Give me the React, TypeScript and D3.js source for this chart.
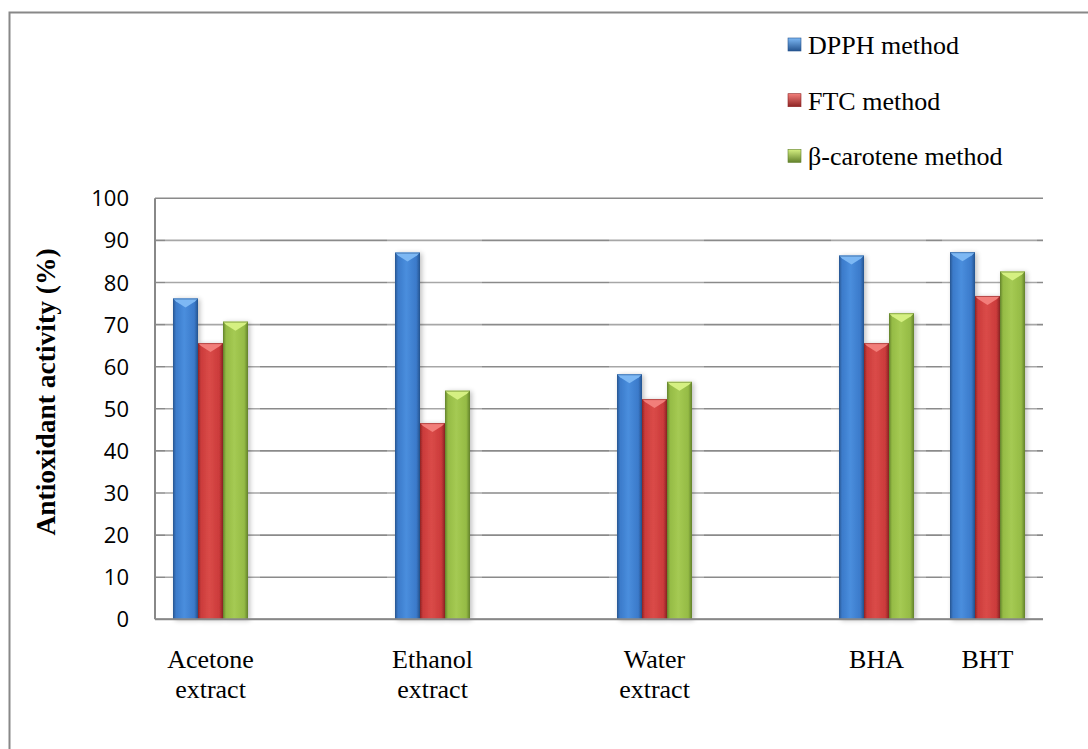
import React from "react";
import * as d3 from "d3";

// Category slots along the x axis (empty slots leave gaps between groups)
const slotCount = 8;
const categories = ["Acetone\nextract", "Ethanol\nextract", "Water\nextract", "BHA", "BHT"];
const categorySlots = [0, 2, 4, 6, 7];

const seriesNames = ["DPPH method", "FTC method", "β-carotene method"];
const dpph = [76.2, 87.1, 58.2, 86.4, 87.2];
const ftc = [65.6, 46.6, 52.3, 65.6, 76.8];
const betaCarotene = [70.7, 54.3, 56.4, 72.7, 82.6];
const yTicks = [0, 10, 20, 30, 40, 50, 60, 70, 80, 90, 100];

const W = 1088;
const H = 749;
const plot = { left: 155, right: 1043, top: 198.3, bottom: 619.3 };

const palette = [
  { base: "#3B7ACA", dark: "#25548F", light: "#4A8EDD", top: "#7DB8F4" },
  { base: "#CB3B3B", dark: "#8E2424", light: "#DA4B48", top: "#F27E7A" },
  { base: "#95BB45", dark: "#62812B", light: "#A5CA53", top: "#D5F082" },
];

export default function App() {
  const series = [dpph, ftc, betaCarotene];
  const x0 = d3.scaleBand<number>().domain(d3.range(slotCount)).range([plot.left, plot.right]);
  const x1 = d3
    .scaleBand<number>()
    .domain(d3.range(series.length))
    .range([0, x0.bandwidth()])
    .paddingInner(0)
    .paddingOuter(0.72);
  const y = d3.scaleLinear().domain([0, 100]).range([plot.bottom, plot.top]);
  const bw = x1.bandwidth();

  return (
    <svg
      width={W}
      height={H}
      style={{ position: "absolute", left: 0, top: 0, background: "#fff" }}
    >
      <defs>
        {palette.map((c, i) => (
          <linearGradient key={i} id={`bar-grad-${i}`} x1="0" x2="1" y1="0" y2="0">
            <stop offset="0%" stopColor={c.dark} />
            <stop offset="12%" stopColor={c.base} />
            <stop offset="45%" stopColor={c.light} />
            <stop offset="85%" stopColor={c.base} />
            <stop offset="100%" stopColor={c.dark} />
          </linearGradient>
        ))}
        {palette.map((c, i) => (
          <linearGradient key={i} id={`leg-grad-${i}`} x1="0" x2="0" y1="0" y2="1">
            <stop offset="0%" stopColor={c.top} />
            <stop offset="100%" stopColor={c.dark} />
          </linearGradient>
        ))}
        <filter id="bar-shadow" x="-30%" y="-5%" width="160%" height="115%">
          <feGaussianBlur in="SourceAlpha" stdDeviation="2.5" />
          <feOffset dx="2" dy="1" result="b" />
          <feComponentTransfer>
            <feFuncA type="linear" slope="0.25" />
          </feComponentTransfer>
          <feMerge>
            <feMergeNode />
            <feMergeNode in="SourceGraphic" />
          </feMerge>
        </filter>
      </defs>

      {/* outer frame */}
      <path d={`M9.5,${H} V12.5 H${W}`} fill="none" stroke="#888" strokeWidth={2} />

      {/* gridlines */}
      {yTicks.map((t) => (
        <line
          key={t}
          x1={plot.left}
          x2={plot.right}
          y1={y(t)}
          y2={y(t)}
          stroke="#8a8a8a"
          strokeWidth={1.6}
        />
      ))}

      {/* soft glow behind each group */}
      {categorySlots.map((s, i) => (
        <rect
          key={i}
          x={x0(s)! + x1(0)! - 8}
          y={y(100) + 1}
          width={bw * 3 + 20}
          height={y(0) - y(100) - 2}
          fill="#fff"
          opacity={0.25}
        />
      ))}

      {/* y axis */}
      <line x1={plot.left} x2={plot.left} y1={plot.top} y2={plot.bottom} stroke="#888" strokeWidth={2} />

      {/* bars */}
      {series.map((vals, si) =>
        vals.map((v, ci) => {
          const bx = x0(categorySlots[ci])! + x1(si)!;
          const by = y(v);
          const bh = y(0) - by;
          const c = palette[si];
          return (
            <g key={`${si}-${ci}`} filter="url(#bar-shadow)">
              <rect x={bx} y={by} width={bw} height={bh} fill={`url(#bar-grad-${si})`} />
              <polygon
                points={`${bx},${by} ${bx + bw},${by} ${bx + bw - 3},${by + 3} ${bx + bw / 2},${by + 9} ${bx + 3},${by + 3}`}
                fill={c.top}
              />
              <line x1={bx} x2={bx + bw} y1={by + 0.5} y2={by + 0.5} stroke={c.dark} strokeWidth={1} opacity={0.6} />
            </g>
          );
        })
      )}

      <line x1={plot.left} x2={plot.right} y1={plot.bottom} y2={plot.bottom} stroke="#888" strokeWidth={2} />

      {/* y tick labels */}
      {yTicks.map((t) => (
        <text
          key={t}
          x={129}
          y={y(t) + 8}
          textAnchor="end"
          fontFamily="'Open Sans', sans-serif"
          fontSize={22}
          fill="#000"
        >
          {t}
        </text>
      ))}

      {/* y axis title */}
      <text
        transform={`translate(55,392) rotate(-90)`}
        textAnchor="middle"
        fontFamily="'Liberation Serif', 'Times New Roman', serif"
        fontWeight="bold"
        fontSize={27.5}
        fill="#000"
      >
        Antioxidant activity (%)
      </text>

      {/* category labels */}
      {categories.map((name, i) => {
        const cx = x0(categorySlots[i])! + x0.bandwidth() / 2;
        return (
          <text
            key={name}
            x={cx}
            y={668}
            textAnchor="middle"
            fontFamily="'Liberation Serif', 'Times New Roman', serif"
            fontSize={26}
            fill="#000"
          >
            {name.split("\n").map((ln, k) => (
              <tspan key={k} x={cx} dy={k === 0 ? 0 : 30}>
                {ln}
              </tspan>
            ))}
          </text>
        );
      })}

      {/* legend */}
      {seriesNames.map((name, i) => {
        const ly = 54 + i * 55.7;
        return (
          <g key={name}>
            <rect x={788} y={ly - 16} width={13} height={13} fill={`url(#leg-grad-${i})`} stroke={palette[i].dark} strokeWidth={0.6} />
            <text
              x={808}
              y={ly}
              fontFamily="'Liberation Serif', 'Times New Roman', serif"
              fontSize={26}
              fill="#000"
            >
              {name}
            </text>
          </g>
        );
      })}
    </svg>
  );
}
